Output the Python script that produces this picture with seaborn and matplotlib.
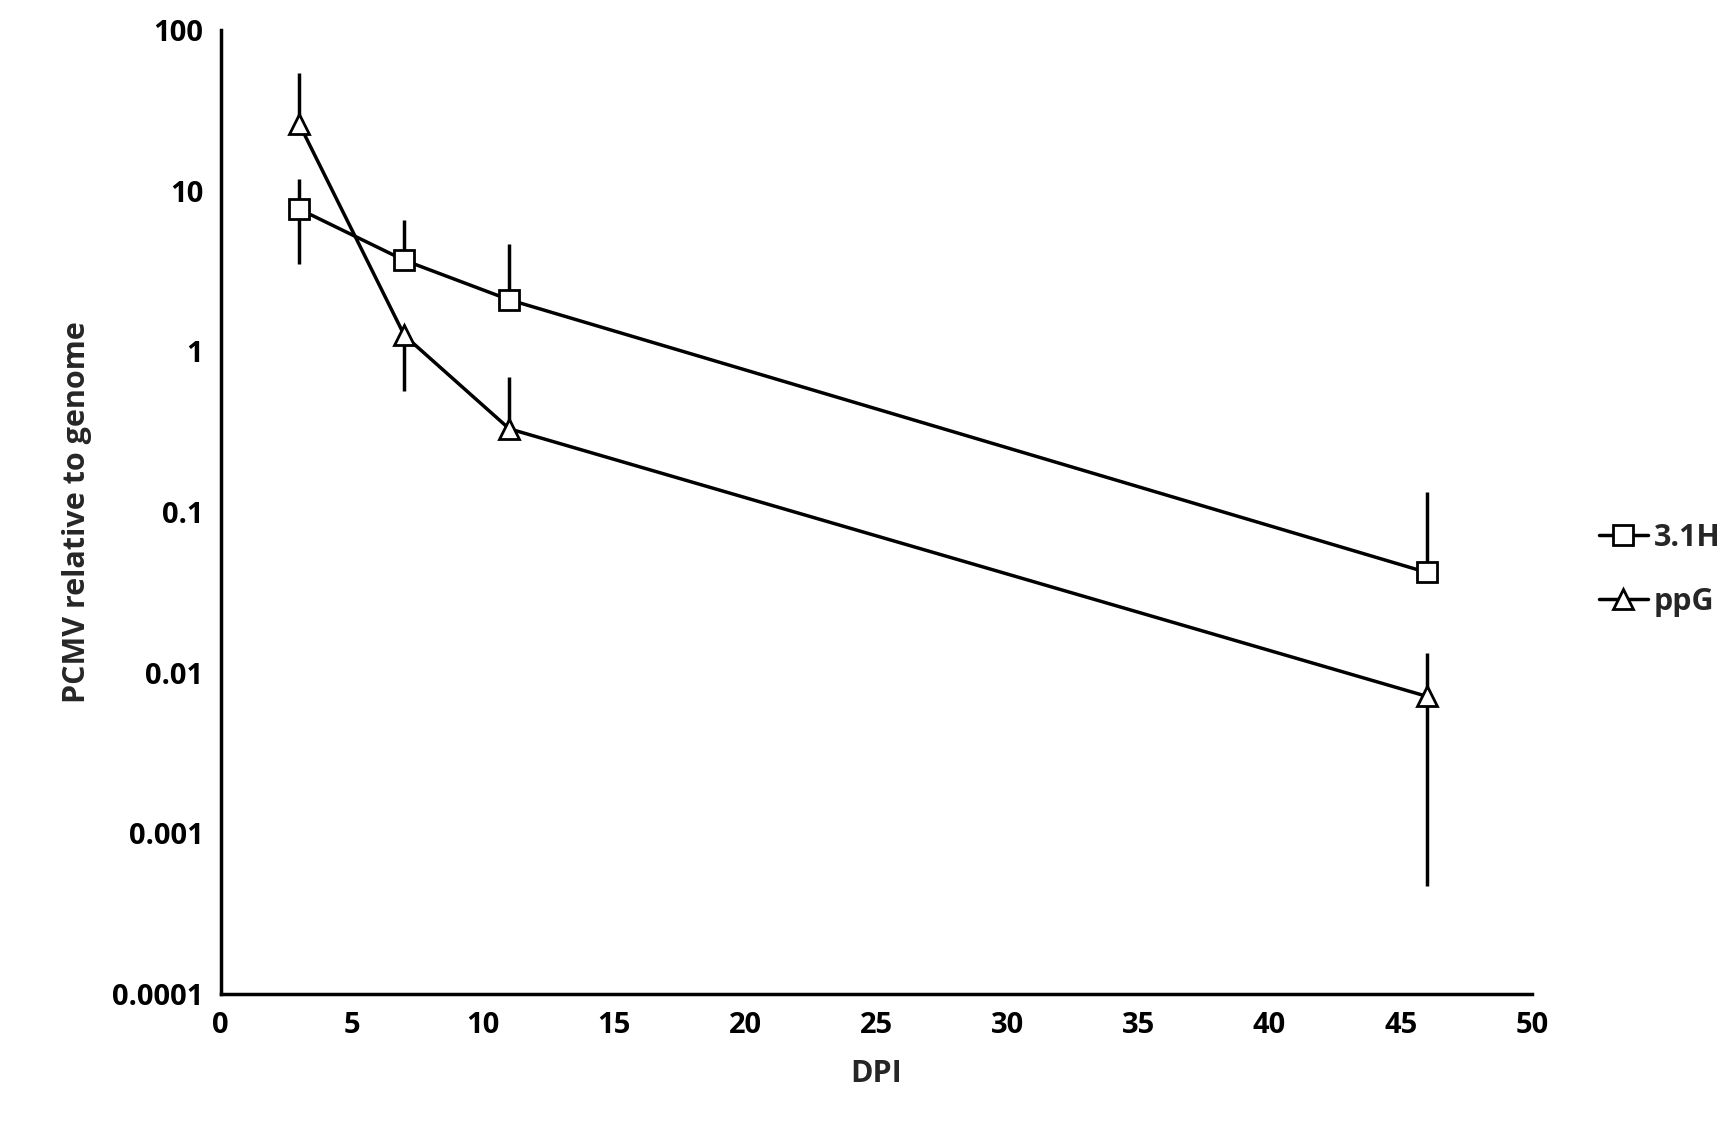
import numpy as np
import seaborn as sns
import matplotlib.pyplot as plt
from matplotlib.ticker import FixedLocator, FixedFormatter

dpi = [3, 7, 11, 46]

h31 = [7.7, 3.7, 2.1, 0.042]
h31_lo = [3.5, 3.7, 2.1, 0.042]
h31_hi = [11.9, 6.6, 4.7, 0.134]

ppg = [26, 1.26, 0.33, 0.0071]
ppg_lo = [26, 0.57, 0.33, 0.00047]
ppg_hi = [54, 1.26, 0.69, 0.0133]

sns.set_style("white")
plt.rcParams['font.family'] = ['Open Sans', 'DejaVu Sans']
plt.rcParams['font.weight'] = 'bold'

fig, ax = plt.subplots(figsize=(17.25, 11.29), dpi=100)

for y, lo, hi, mk, lab in [(h31, h31_lo, h31_hi, 's', '3.1H'),
                          (ppg, ppg_lo, ppg_hi, '^', 'ppG')]:
    y = np.array(y)
    err = [y - np.array(lo), np.array(hi) - y]
    ax.errorbar(dpi, y, yerr=err, fmt='none', ecolor='black', elinewidth=2.5, capsize=0, zorder=1)
    sns.lineplot(x=dpi, y=y, marker=mk, color='black', linewidth=2.5, markersize=14,
                 markerfacecolor='white', markeredgecolor='black', markeredgewidth=2,
                 label=lab, ax=ax, zorder=2)

ax.set_yscale('log')
ax.set_ylim(0.0001, 100)
ax.set_xlim(0, 50)
ax.set_xticks(range(0, 51, 5))
ticks = [0.0001, 0.001, 0.01, 0.1, 1, 10, 100]
ax.yaxis.set_major_locator(FixedLocator(ticks))
ax.yaxis.set_major_formatter(FixedFormatter(['0.0001', '0.001', '0.01', '0.1', '1', '10', '100']))
ax.yaxis.set_minor_locator(FixedLocator([]))

for s in ['top', 'right']:
    ax.spines[s].set_visible(False)
for s in ['left', 'bottom']:
    ax.spines[s].set_linewidth(2.5)
    ax.spines[s].set_color('black')
ax.tick_params(axis='both', direction='out', length=9, width=2.5, labelsize=21, colors='black')
for t in ax.get_xticklabels() + ax.get_yticklabels():
    t.set_fontweight('bold')

ax.set_xlabel('DPI', fontsize=22, fontweight='bold', labelpad=14)
ax.set_ylabel('PCMV relative to genome', fontsize=22, fontweight='bold', labelpad=14)

leg = ax.legend(loc='center left', bbox_to_anchor=(1.03, 0.44), frameon=False,
                fontsize=22, handlelength=1.6, handletextpad=0.2, labelspacing=1.1)
for t in leg.get_texts():
    t.set_fontweight('bold')

fig.subplots_adjust(left=0.128, right=0.888, top=0.973, bottom=0.12)
fig.savefig('out.png', dpi=100)
